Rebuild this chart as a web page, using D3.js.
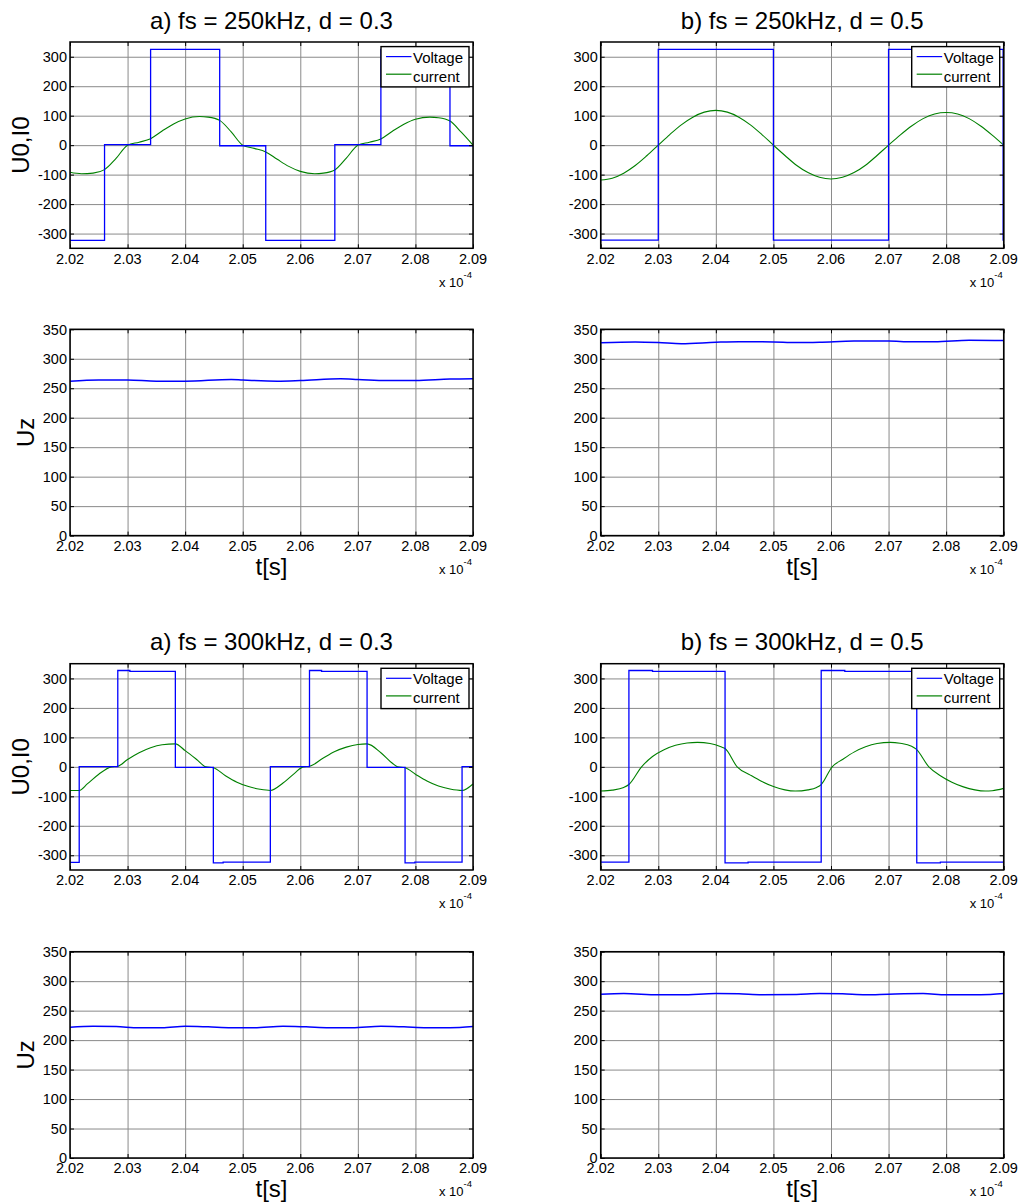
<!DOCTYPE html>
<html>
<head>
<meta charset="utf-8">
<script src="https://cdn.jsdelivr.net/npm/d3@7"></script>
<style>
body { margin: 0; background: #fff; }
text { font-family: Arial, "Liberation Sans", sans-serif; fill: #000; }
</style>
</head>
<body>
<svg id="fig" width="1025" height="1203"></svg>
<script>
// time axis is in units of 1e-4 s
const tTicks = [2.02, 2.03, 2.04, 2.05, 2.06, 2.07, 2.08, 2.09];
const uiTicks = [-300, -200, -100, 0, 100, 200, 300];
const uzTicks = [0, 50, 100, 150, 200, 250, 300, 350];
const titles = ["a) fs = 250kHz, d = 0.3", "b) fs = 250kHz, d = 0.5",
                "a) fs = 300kHz, d = 0.3", "b) fs = 300kHz, d = 0.5"];
const legendNames = ["Voltage", "current"];

// a) 250kHz d=0.3
const voltA250_t = [2.020, 2.026, 2.034, 2.046, 2.054, 2.066, 2.074, 2.086, 2.090];
const voltA250_v = [-323, 2, 325, -2, -323, 2, 325, -2, -2];
const currA250_t = [2.020, 2.022, 2.024, 2.026, 2.028, 2.030, 2.032, 2.034, 2.036, 2.038, 2.040, 2.0425, 2.044, 2.046, 2.048, 2.050,
                    2.052, 2.054, 2.056, 2.058, 2.060, 2.0625, 2.064, 2.066, 2.068, 2.070, 2.072, 2.074, 2.076, 2.078, 2.080, 2.0825, 2.084, 2.086, 2.088, 2.090];
const currA250_v = [-92, -97, -95, -83, -45, 0, 10, 22, 48, 72, 89, 97, 95, 84, 45, 0,
                    -11, -23, -48, -72, -89, -97, -95, -84, -44, 0, 10, 21, 47, 71, 88, 95, 93, 82, 43, 0];
const uzA250_t = [2.020, 2.025, 2.030, 2.035, 2.040, 2.048, 2.050, 2.056, 2.060, 2.067, 2.070, 2.075, 2.080, 2.086, 2.090];
const uzA250_v = [262, 264, 264, 262, 262, 265, 264, 262, 263, 266, 265, 263, 263, 265.5, 266];

// b) 250kHz d=0.5
const voltB250_t = [2.020, 2.030, 2.050, 2.070, 2.0899, 2.090];
const voltB250_v = [-322, 325, -322, 325, -322, -322];
const currB250_t = [2.020, 2.022, 2.024, 2.026, 2.028, 2.030, 2.032, 2.034, 2.036, 2.038, 2.040, 2.042, 2.044, 2.046, 2.048, 2.050,
                    2.052, 2.054, 2.056, 2.058, 2.060, 2.062, 2.064, 2.066, 2.068, 2.070, 2.072, 2.074, 2.076, 2.078, 2.080, 2.082, 2.084, 2.086, 2.088, 2.090];
const currB250_v = [-118, -112, -95, -69, -36, 0, 36, 69, 95, 112, 118, 112, 95, 69, 36, 0,
                    -35, -68, -93, -109, -115, -109, -93, -68, -35, 0, 34, 65, 90, 106, 111, 106, 90, 65, 34, 0];
const uzB250_t = [2.020, 2.026, 2.030, 2.034, 2.040, 2.044, 2.050, 2.054, 2.058, 2.064, 2.070, 2.074, 2.078, 2.084, 2.090];
const uzB250_v = [327, 328.5, 327.5, 325.5, 328, 329, 328.5, 327.5, 328, 330, 330, 329, 329, 331.5, 331];

// a) 300kHz d=0.3
const voltA300_t = [2.020, 2.0216, 2.0283, 2.0304, 2.0383, 2.0449, 2.0466, 2.0548, 2.0616, 2.0637, 2.0716, 2.0782, 2.0799, 2.0881, 2.090];
const voltA300_v = [-324, 1, 327, 324, -2, -326, -323, 1, 327, 324, -2, -326, -323, 1, 1];
const currA300_t = [2.0200, 2.0216, 2.0230, 2.0250, 2.0272, 2.0283, 2.0300, 2.0320, 2.0340, 2.0360, 2.0383, 2.0400, 2.0420, 2.0436, 2.0449,
                    2.0470, 2.0490, 2.0510, 2.0530, 2.0548, 2.0570, 2.0590, 2.0605, 2.0616, 2.0640, 2.0660, 2.0680, 2.0700, 2.0716,
                    2.0740, 2.0760, 2.0769, 2.0782, 2.0800, 2.0820, 2.0840, 2.0860, 2.0881, 2.0900];
const currA300_v = [-80, -80, -58, -25, 0, 2, 25, 48, 65, 75, 78, 55, 25, 0, -3,
                    -30, -52, -67, -76, -80, -55, -22, 0, 2, 30, 52, 67, 76, 78,
                    48, 12, 0, -3, -25, -48, -65, -75, -80, -58];
const uzA300_t = [2.020, 2.024, 2.028, 2.032, 2.036, 2.040, 2.044, 2.048, 2.052, 2.057, 2.061, 2.065, 2.069, 2.074, 2.078, 2.082, 2.086, 2.090];
const uzA300_v = [222, 223.5, 223, 221, 221, 223.5, 222.5, 221, 221, 223.5, 222.5, 221, 221, 223.5, 222.5, 221, 221, 223];

// b) 300kHz d=0.5
const voltB300_t = [2.020, 2.0249, 2.0290, 2.0416, 2.0456, 2.0583, 2.0624, 2.0749, 2.0790, 2.090];
const voltB300_v = [-323, 327, 324, -326, -323, 327, 324, -326, -323, -323];
const currB300_t = [2.0200, 2.0220, 2.0240, 2.0249, 2.0271, 2.0290, 2.0310, 2.0330, 2.0350, 2.0368, 2.0390, 2.0410, 2.0416, 2.0437,
                    2.0460, 2.0480, 2.0500, 2.0520, 2.0538, 2.0560, 2.0575, 2.0583, 2.0602, 2.0620, 2.0640, 2.0660, 2.0680, 2.0703,
                    2.0720, 2.0740, 2.0748, 2.0770, 2.0790, 2.0810, 2.0830, 2.0850, 2.0868, 2.0880, 2.0900];
const currB300_v = [-82, -79, -70, -60, 0, 35, 58, 73, 81, 83, 79, 67, 62, 0,
                    -28, -50, -67, -78, -82, -78, -70, -60, 0, 25, 50, 68, 79, 83,
                    80, 70, 60, 0, -30, -52, -68, -78, -82, -81, -73];
const uzB300_t = [2.020, 2.024, 2.030, 2.034, 2.040, 2.044, 2.048, 2.054, 2.058, 2.062, 2.066, 2.070, 2.076, 2.080, 2.086, 2.090];
const uzB300_v = [278, 279, 277, 277, 279, 278.5, 277, 277.5, 279, 278.5, 277, 278, 279, 277, 277, 279];

const zip = (t, v) => t.map((d, i) => [d, v[i]]);

const colX = [70, 600.7];
const rowY = [42, 329.3, 663.7, 951.7];
const W = 403, H = 206.3;

const panels = [
  {col: 0, row: 0, kind: "ui", title: titles[0], volt: zip(voltA250_t, voltA250_v), curr: zip(currA250_t, currA250_v)},
  {col: 1, row: 0, kind: "ui", title: titles[1], volt: zip(voltB250_t, voltB250_v), curr: zip(currB250_t, currB250_v)},
  {col: 0, row: 1, kind: "uz", uz: zip(uzA250_t, uzA250_v)},
  {col: 1, row: 1, kind: "uz", uz: zip(uzB250_t, uzB250_v)},
  {col: 0, row: 2, kind: "ui", title: titles[2], volt: zip(voltA300_t, voltA300_v), curr: zip(currA300_t, currA300_v)},
  {col: 1, row: 2, kind: "ui", title: titles[3], volt: zip(voltB300_t, voltB300_v), curr: zip(currB300_t, currB300_v)},
  {col: 0, row: 3, kind: "uz", uz: zip(uzA300_t, uzA300_v)},
  {col: 1, row: 3, kind: "uz", uz: zip(uzB300_t, uzB300_v)}
];

const svg = d3.select("#fig");

panels.forEach(function(p, idx) {
  const x0 = colX[p.col], y0 = rowY[p.row];
  const g = svg.append("g").attr("transform", "translate(" + x0 + "," + y0 + ")");

  const x = d3.scaleLinear().domain([2.02, 2.09]).range([0, W]);
  const y = p.kind == "ui"
    ? d3.scaleLinear().domain([-350, 350]).range([H, 0])
    : d3.scaleLinear().domain([0, 350]).range([H, 0]);
  const yTicks = p.kind == "ui" ? uiTicks : uzTicks;

  // grid
  g.append("g").call(d3.axisBottom(x).tickValues(tTicks).tickSize(-H).tickFormat(""))
    .attr("transform", "translate(0," + H + ")")
    .call(a => a.select(".domain").remove())
    .selectAll("line").attr("stroke", "#8a8a8a").attr("stroke-width", 1);
  g.append("g").call(d3.axisLeft(y).tickValues(yTicks).tickSize(-W).tickFormat(""))
    .call(a => a.select(".domain").remove())
    .selectAll("line").attr("stroke", "#8a8a8a").attr("stroke-width", 1);

  // data
  const clipId = "clip" + idx;
  g.append("clipPath").attr("id", clipId).append("rect").attr("width", W).attr("height", H);
  const plot = g.append("g").attr("clip-path", "url(#" + clipId + ")");

  if (p.kind == "ui") {
    plot.append("path").datum(p.curr)
      .attr("fill", "none").attr("stroke", "#008000").attr("stroke-width", 1.1)
      .attr("d", d3.line().x(d => x(d[0])).y(d => y(d[1])).curve(d3.curveMonotoneX));
    plot.append("path").datum(p.volt)
      .attr("fill", "none").attr("stroke", "#0000ff").attr("stroke-width", 1.3)
      .attr("d", d3.line().x(d => x(d[0])).y(d => y(d[1])).curve(d3.curveStepAfter));
  } else {
    plot.append("path").datum(p.uz)
      .attr("fill", "none").attr("stroke", "#0000ff").attr("stroke-width", 1.5)
      .attr("d", d3.line().x(d => x(d[0])).y(d => y(d[1])).curve(d3.curveMonotoneX));
  }

  // inward ticks on all sides
  const tl = 4;
  g.append("g").attr("transform", "translate(0," + H + ")")
    .call(d3.axisBottom(x).tickValues(tTicks).tickSize(-tl).tickFormat(""))
    .call(a => a.select(".domain").remove());
  g.append("g").call(d3.axisTop(x).tickValues(tTicks).tickSize(-tl).tickFormat(""))
    .call(a => a.select(".domain").remove());
  g.append("g").call(d3.axisLeft(y).tickValues(yTicks).tickSize(-tl).tickFormat(""))
    .call(a => a.select(".domain").remove());
  g.append("g").attr("transform", "translate(" + W + ",0)")
    .call(d3.axisRight(y).tickValues(yTicks).tickSize(-tl).tickFormat(""))
    .call(a => a.select(".domain").remove());
  g.selectAll(".tick line").filter(function() { return this.getAttribute("stroke") == "currentColor"; })
    .attr("stroke", "#000").attr("stroke-width", 1);

  // box
  g.append("rect").attr("width", W).attr("height", H)
    .attr("fill", "none").attr("stroke", "#000").attr("stroke-width", 1.5);

  // tick labels
  g.selectAll(".xl").data(tTicks).enter().append("text")
    .attr("x", d => x(d)).attr("y", H + 15.5)
    .attr("text-anchor", "middle").style("font-size", "14.5px")
    .text(d => d.toFixed(2));
  g.selectAll(".yl").data(yTicks).enter().append("text")
    .attr("x", -3).attr("y", d => y(d)).attr("dy", "0.36em")
    .attr("text-anchor", "end").style("font-size", "14.5px")
    .text(d => d);

  // x 10^-4
  const ex = g.append("text").attr("x", W - 1).attr("y", H + 38.5)
    .attr("text-anchor", "end").style("font-size", "13px");
  ex.append("tspan").text("x 10");
  ex.append("tspan").attr("dy", -9).style("font-size", "9.5px").text("-4");

  if (p.kind == "ui") {
    g.append("text").attr("x", W / 2).attr("y", -13.5)
      .attr("text-anchor", "middle").style("font-size", "24px").text(p.title);

    // legend
    const lg = g.append("g").attr("transform", "translate(" + (W - 92) + ",4.6)");
    lg.append("rect").attr("width", 88).attr("height", 40.3)
      .attr("fill", "#fff").attr("stroke", "#000").attr("stroke-width", 1.4);
    const lcol = ["#0000ff", "#008000"];
    legendNames.forEach(function(name, i) {
      lg.append("line").attr("x1", 5).attr("x2", 30.5)
        .attr("y1", 10 + i * 17.6).attr("y2", 10 + i * 17.6)
        .attr("stroke", lcol[i]).attr("stroke-width", 1.2);
      lg.append("text").attr("x", 32).attr("y", 16 + i * 19)
        .style("font-size", "15px").text(name);
    });
  } else {
    g.append("text").attr("x", W / 2).attr("y", H + 39)
      .attr("text-anchor", "middle").style("font-size", "24px").text("t[s]");
  }

  if (p.col == 0) {
    const lx = p.kind == "ui" ? -41 : -36;
    g.append("text").attr("transform", "translate(" + lx + "," + (H / 2) + ") rotate(-90)")
      .attr("text-anchor", "middle").style("font-size", "24px")
      .text(p.kind == "ui" ? "U0,I0" : "Uz");
  }
});
</script>
</body>
</html>
